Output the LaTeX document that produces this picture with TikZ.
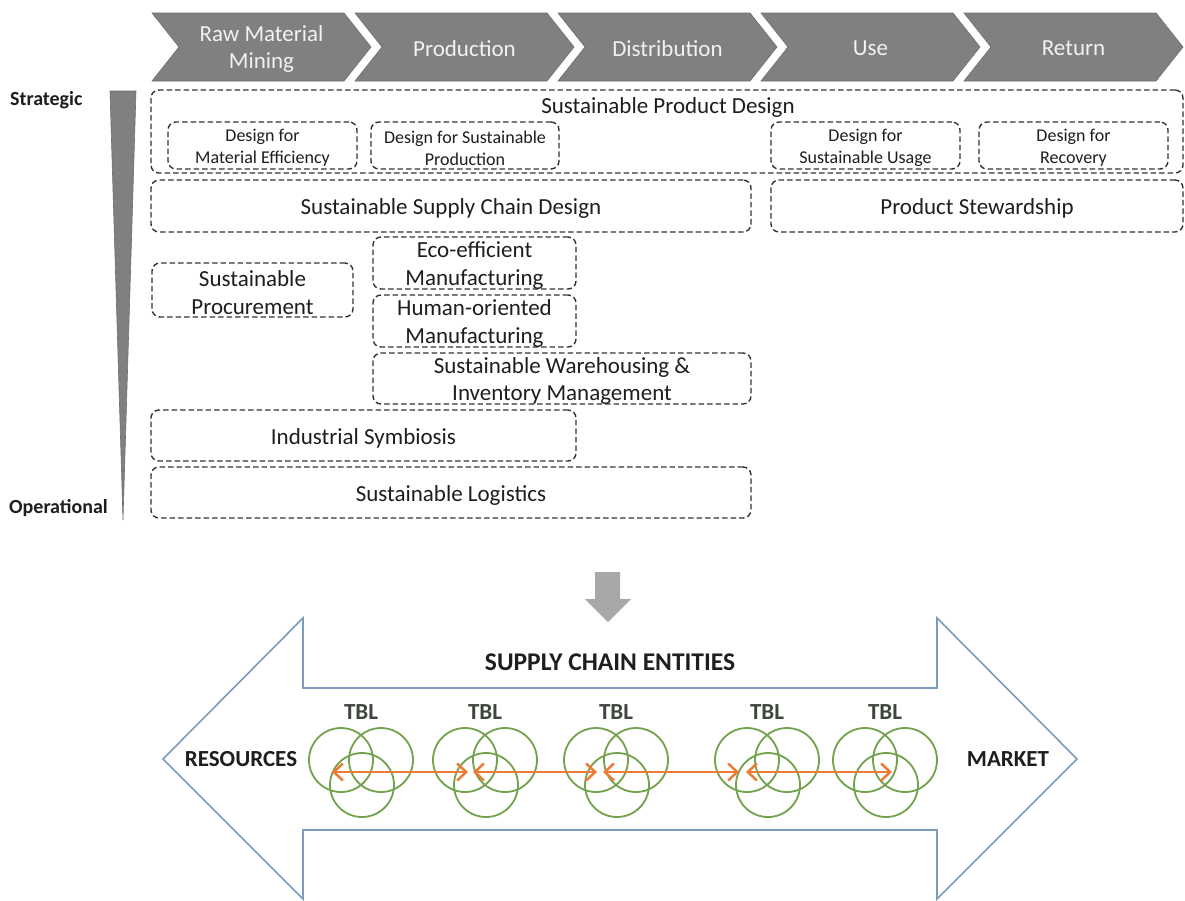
\documentclass[tikz,border=0pt]{standalone}
\usepackage{fontspec}
\setmainfont{Carlito}
\usetikzlibrary{arrows.meta}
\definecolor{chevfill}{HTML}{808080}
\definecolor{chevline}{HTML}{6E6E6E}
\definecolor{chevtxt}{HTML}{F2F2F2}
\definecolor{boxline}{HTML}{333333}
\definecolor{txt}{HTML}{1E1E1E}
\definecolor{downgray}{HTML}{A8A8A8}
\definecolor{bigblue}{HTML}{7C9CBE}
\definecolor{tblgreen}{HTML}{72A24C}
\definecolor{tblorange}{HTML}{EC7C35}
\definecolor{tbltxt}{HTML}{3E463C}
\tikzset{
  chevtext/.style={text=chevtxt, align=center, inner sep=0pt, font=\fontsize{23}{27}\selectfont},
  dbox/.style={draw=boxline, dash pattern=on 5.5pt off 3pt, line width=1.4pt, rounded corners=8pt, inner sep=0pt},
  sbox/.style={dbox},
  btxt/.style={inner sep=0pt, align=center, text=txt, font=\fontsize{23}{27.5}\selectfont},
  stxt/.style={btxt, font=\fontsize{18}{22}\selectfont},
  lvl/.style={text=txt, inner sep=0pt, font=\bfseries\fontsize{20}{24}\selectfont},
  captxt/.style={text=txt, inner sep=0pt, font=\bfseries\fontsize{23}{27}\selectfont},
  bigcap/.style={captxt, font=\bfseries\fontsize{25.5}{30}\selectfont},
  tbllabel/.style={text=tbltxt, inner sep=0pt, font=\bfseries\fontsize{23}{27}\selectfont},
  ring/.style={draw=tblgreen, line width=1.8pt},
  flow/.style={draw=tblorange, line width=2.5pt, {Straight Barb[length=9pt,width=17pt,line width=2.5pt]}-{Straight Barb[length=9pt,width=17pt,line width=2.5pt]}},
}
% #1 box style, #2 name, #3..#6 corners, #7 text style, #8 text
\newcommand\mkbox[8]{%
  \node[#1, minimum width={#5-#3}, minimum height={#6-#4}] (#2) at ({(#3+#5)/2},{(#4+#6)/2}) {};
  \node[#7] (#2t) at ({(#3+#5)/2},{(#4+#6)/2+2.5}) {#8};}
\begin{document}
\begin{tikzpicture}[x=1pt,y=-1pt]
\useasboundingbox (0,0) rectangle (1185,900);
\fill[white] (0,0) rectangle (1185,900);
% chevrons
\foreach \i/\t in {0/{Raw Material\\Mining},1/Production,2/Distribution,3/Use,4/Return}{
  \pgfmathsetmacro\xo{152+203*\i}
  \filldraw[fill=chevfill, draw=chevline, line width=0.6pt] (\xo,13) -- ++(192,0) -- ++(27,34) -- ++(-27,34) -- ++(-192,0) -- ++(27,-34) -- cycle;
  \node[chevtext] (c\i) at (\xo+109.5,48.5) {\t};
}
% strategic-operational wedge
\filldraw[fill=chevfill, draw=chevline, line width=0.6pt] (110,91) -- (136,91) -- (123,520) -- cycle;
\node[lvl, anchor=west] (strat) at (10,100) {Strategic};
\node[lvl, anchor=west] (oper) at (9,508) {Operational};
% boxes
\node[dbox, minimum width=1032, minimum height=83] (spd) at (667,131.5) {};
\node[btxt] (spdt) at (668,107.5) {Sustainable Product Design};
\mkbox{sbox}{dme}{168}{122}{357}{169}{stxt}{Design for\\Material Efficiency}
\mkbox{sbox}{dsp}{371}{122}{559}{169}{stxt}{Design for Sustainable\\Production}
\mkbox{sbox}{dsu}{771}{122}{960}{169}{stxt}{Design for\\Sustainable Usage}
\mkbox{sbox}{dr}{979}{122}{1168}{169}{stxt}{Design for\\Recovery}
\mkbox{dbox}{sscd}{151}{180}{751}{232}{btxt}{Sustainable Supply Chain Design}
\mkbox{dbox}{ps}{771}{180}{1183}{232}{btxt}{Product Stewardship}
\mkbox{dbox}{proc}{152}{263}{353}{317}{btxt}{Sustainable\\Procurement}
\mkbox{dbox}{eco}{373}{237}{576}{289}{btxt}{Eco-efficient\\Manufacturing}
\mkbox{dbox}{hum}{373}{295}{576}{347}{btxt}{Human-oriented\\Manufacturing}
\mkbox{dbox}{ware}{373}{353}{751}{404}{btxt}{Sustainable Warehousing \&\\Inventory Management}
\mkbox{dbox}{ind}{151}{410}{576}{461}{btxt}{Industrial Symbiosis}
\mkbox{dbox}{log}{151}{467}{751}{518}{btxt}{Sustainable Logistics}
% down arrow
\fill[downgray] (595,572) -- (620,572) -- (620,599) -- (631,599) -- (608,622) -- (585,599) -- (595,599) -- cycle;
% big double arrow
\draw[draw=bigblue, line width=1.6pt, line join=miter] (163,759) -- (303,618) -- (303,688) -- (937,688) -- (937,618) -- (1077,759) -- (937,899) -- (937,830) -- (303,830) -- (303,899) -- cycle;
\node[bigcap] (sce) at (610,662) {SUPPLY CHAIN ENTITIES};
\node[captxt] (res) at (241,759) {RESOURCES};
\node[captxt] (mkt) at (1008,759) {MARKET};
% TBL groups
\foreach \k/\cx in {1/361,2/485,3/616,4/767,5/885}{
  \node[tbllabel] (tbl\k) at (\cx,712) {TBL};
  \draw[ring] (\cx-20,760) circle (32);
  \draw[ring] (\cx+20,760) circle (32);
  \draw[ring] (\cx+1,785) circle (32);
}
\coordinate (a1) at (332,772); \coordinate (b1) at (468,772);
\coordinate (a2) at (473,772); \coordinate (b2) at (597,772);
\coordinate (a3) at (603,772); \coordinate (b3) at (739,772);
\coordinate (a4) at (746,772); \coordinate (b4) at (892,772);
\draw[flow] (a1) -- (b1);
\draw[flow] (a2) -- (b2);
\draw[flow] (a3) -- (b3);
\draw[flow] (a4) -- (b4);
\end{tikzpicture}
\end{document}
